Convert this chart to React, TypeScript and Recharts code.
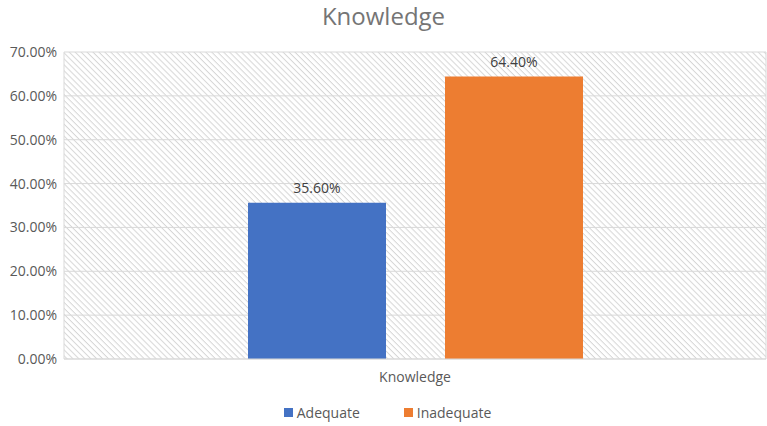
import React from 'react';
import { BarChart, Bar, XAxis, YAxis, CartesianGrid, Legend, LabelList } from 'recharts';

const categories = ['Knowledge'];
const seriesNames = ['Adequate', 'Inadequate'];
const adequate = [0.356];
const inadequate = [0.644];
const yTicks = [0, 0.1, 0.2, 0.3, 0.4, 0.5, 0.6, 0.7];
const colors = ['#4472C4', '#ED7D31'];
const title = 'Knowledge';

const data = categories.map((c, i) => ({ name: c, Adequate: adequate[i], Inadequate: inadequate[i] }));

const pct = (v: any) => `${(Number(v) * 100).toFixed(2)}%`;
const FONT = '"Open Sans", "Noto Sans", sans-serif';

const LegendContent = () => (
  <div style={{ display: 'flex', justifyContent: 'center', gap: 44, fontFamily: FONT, fontSize: 14, color: '#595959', paddingLeft: 9 }}>
    {seriesNames.map((n, i) => (
      <div key={n} style={{ display: 'flex', alignItems: 'center' }}>
        <span style={{ width: 9, height: 9, background: colors[i], display: 'inline-block', marginRight: 4 }} />
        <span>{n}</span>
      </div>
    ))}
  </div>
);

export default function App() {
  return (
    <div style={{ position: 'absolute', left: 0, top: 0, width: 767, height: 426, background: '#fff' }}>
      <svg width={0} height={0} style={{ position: 'absolute' }}>
        <defs>
          <pattern id="hatch" patternUnits="userSpaceOnUse" width={4.2} height={4.2} patternTransform="rotate(45)">
            <rect width={4.2} height={4.2} fill="#ffffff" />
            <line x1={0} y1={0.5} x2={4.2} y2={0.5} stroke="#d6d6d6" strokeWidth={1} />
          </pattern>
        </defs>
      </svg>
      <BarChart
        width={767}
        height={426}
        data={data}
        margin={{ top: 52, right: 1, left: 0, bottom: 3 }}
        barGap={59}
        style={{ position: 'absolute', top: 0, left: 0 }}
      >
        <CartesianGrid
          stroke="#d9d9d9"
          fill="url(#hatch)"
          fillOpacity={1}
          verticalCoordinatesGenerator={({ offset }: any) => [offset.left, offset.left + offset.width]}
        />
        <XAxis
          dataKey="name"
          height={44}
          tickLine={false}
          tickSize={0}
          tickMargin={13}
          axisLine={{ stroke: '#d9d9d9' }}
          tick={{ fill: '#595959', fontSize: 14, fontFamily: FONT }}
        />
        <YAxis
          width={64}
          domain={[0, 0.7]}
          ticks={yTicks}
          tickFormatter={pct}
          axisLine={false}
          tickLine={false}
          tickSize={0}
          tickMargin={7}
          tick={{ fill: '#595959', fontSize: 14, fontFamily: FONT }}
        />
        <Legend verticalAlign="bottom" height={20} content={<LegendContent />} />
        {seriesNames.map((n, i) => (
          <Bar key={n} dataKey={n} fill={colors[i]} barSize={138} isAnimationActive={false}>
            <LabelList dataKey={n} position="top" offset={10} formatter={pct} fill="#404040" fontSize={14} fontFamily={FONT} />
          </Bar>
        ))}
      </BarChart>
      <div style={{ position: 'absolute', top: 1, left: 0, width: 767, zIndex: 2, textAlign: 'center', fontFamily: FONT, fontSize: 24, color: '#757575', lineHeight: '30px' }}>
        {title}
      </div>
    </div>
  );
}
